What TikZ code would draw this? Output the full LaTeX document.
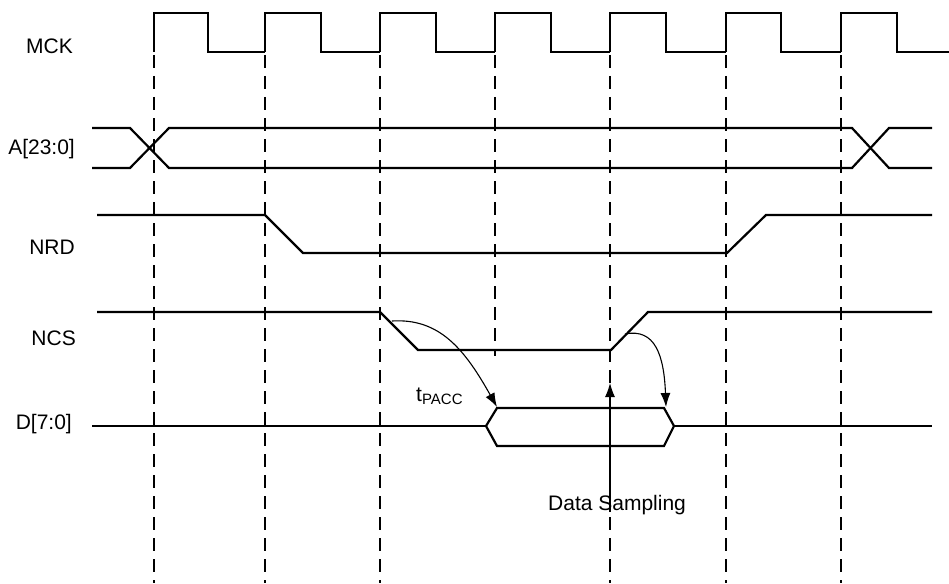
\documentclass[tikz,border=0pt]{standalone}
\usepackage{xcolor}
\usepackage{fontspec}
\setmainfont{Liberation Sans}
\usetikzlibrary{arrows.meta}

\begin{document}
\begin{tikzpicture}[x=1pt,y=-1pt]
	\tikzstyle{signal} = [line width=2.2pt]
	\tikzstyle{clockline} = [line width=1.1pt, dash pattern=on 13pt off 8pt]
	\tikzstyle{signame} = [anchor=base east, inner sep=0pt, font=\fontsize{21}{25}\selectfont]
	\tikzset{edge/.style = {line width=1.1pt, -{Latex[length=14pt,width=10pt]}}}

	\useasboundingbox (0,0) rectangle (949,583);

	\node[signame](mck) at (73,54) {MCK};
	\node[signame](addr) at (75,154) {A[23:0]};
	\node[signame](nrd) at (75,254) {NRD};
	\node[signame](ncs) at (76,345) {NCS};
	\node[signame](data) at (72,429) {D[7:0]};

	\foreach \x in {154,265,380,610,726,841}
		\draw[clockline] (\x,55) -- (\x,583);
	\draw[clockline] (495,55) -- (495,356);

	\foreach \r/\f/\n in {154/208/265, 265/321/380, 380/436/495, 495/551/610, 610/666/726, 726/781/841, 841/897/949}
		\draw[signal] (\r,52) -- (\r,13) -- (\f,13) -- (\f,52) -- (\n,52);

	\draw[signal] (92,128) -- (130,128) -- (169,168) -- (852,168) -- (889,128) -- (932,128);
	\draw[signal] (92,168) -- (130,168) -- (169,128) -- (852,128) -- (889,168) -- (932,168);

	\draw[signal] (97,215) -- (265,215) -- (303,253) -- (727,253) -- (766,215) -- (932,215);

	\draw[signal] (97,312) -- (380,312) -- (418,350) -- (611,350) -- (648,312) -- (932,312);

	\draw[signal] (92,426) -- (486,426);
	\draw[signal] (486,426) -- (497,408) -- (664,408) -- (674,426) -- (664,446) -- (497,446) -- cycle;
	\draw[signal] (674,426) -- (932,426);

	\coordinate (ncsfall) at (392,321);
	\coordinate (dvalid) at (497,407);
	\coordinate (ncsrise) at (625,334);
	\coordinate (dhold) at (666,407);
	\coordinate (sampletip) at (610,383);
	\coordinate (samplefoot) at (610,512);

	\node[signame, anchor=base west](tpacc) at (416,401) {t\raisebox{-3pt}{\fontsize{15}{18}\selectfont PACC}};
	\node[signame, anchor=base west](sampling) at (548,510) {Data Sampling};

	\draw[edge](ncsfall) .. controls (440,318) and (465,350) .. (dvalid);
	\draw[edge](ncsrise) .. controls (655,328) and (664,355) .. (dhold);
	\draw[edge](samplefoot) to (sampletip);
\end{tikzpicture}
\end{document}
